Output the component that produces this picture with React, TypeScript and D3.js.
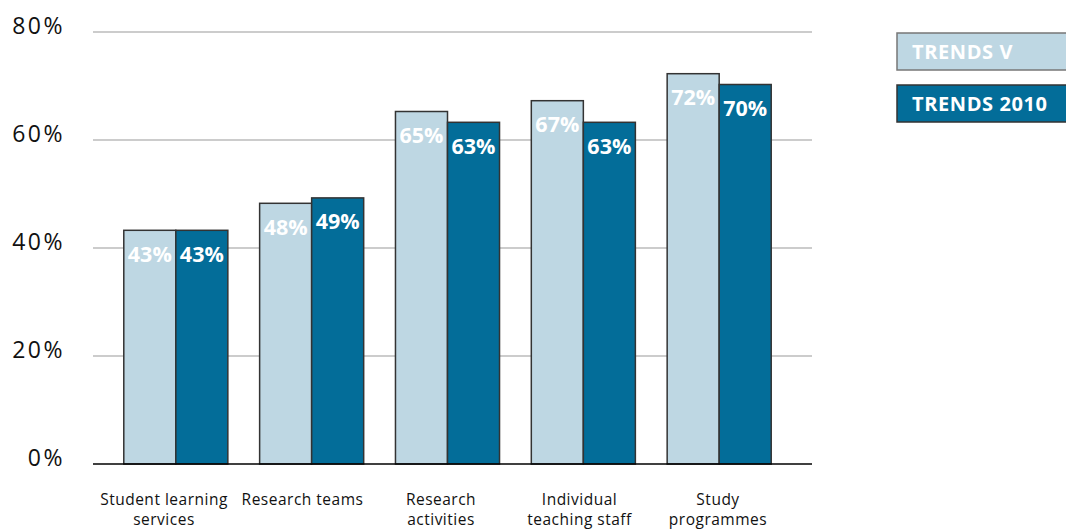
import React from "react";
import * as d3 from "d3";

const categories = [
  ["Student learning", "services"],
  ["Research teams"],
  ["Research", "activities"],
  ["Individual", "teaching staff"],
  ["Study", "programmes"],
];
const seriesNames = ["TRENDS V", "TRENDS 2010"];
const trendsV = [43, 48, 65, 67, 72];
const trends2010 = [43, 49, 63, 63, 70];
const yTicks = [0, 20, 40, 60, 80];

const colors = ["#BED7E3", "#036D99"];
const FONT = "'Open Sans', Lato, 'DejaVu Sans', sans-serif";

export default function App() {
  const W = 1066, H = 529;
  const y = d3.scaleLinear().domain([0, 80]).range([464, 32]);
  const idx = d3.range(categories.length);
  const x0 = d3.scaleBand<number>().domain(idx).range([92, 803]).paddingInner(0.234).paddingOuter(0.234);
  const x1 = d3.scaleBand<number>().domain([0, 1]).range([0, x0.bandwidth()]);
  const xLabel = d3.scalePoint<number>().domain(idx).range([164, 718]);
  const series = [trendsV, trends2010];
  const gridX0 = 93, gridX1 = 812;

  return (
    <svg width={W} height={H} style={{ position: "absolute", left: 0, top: 0, fontFamily: FONT }}>
      {yTicks.map((t) => (
        <g key={t}>
          {t > 0 && <line x1={gridX0} x2={gridX1} y1={y(t)} y2={y(t)} stroke="#999" strokeWidth={1} />}
          <text x={65} y={y(t) + 2} textAnchor="end" fontSize={23} fill="#111" letterSpacing={2.5}>{t}%</text>
        </g>
      ))}
      {categories.map((c, i) => (
        <g key={i}>
          {series.map((s, j) => {
            const bx = (x0(i) as number) + (x1(j) as number);
            const by = y(s[i]);
            return (
              <g key={j}>
                <rect x={bx} y={by - 1.5} width={x1.bandwidth()} height={y(0) - by + 1.5} fill={colors[j]} stroke="#333" strokeWidth={1.5} />
                <text x={bx + x1.bandwidth() / 2} y={by + 30} textAnchor="middle" fontSize={21.5} fontWeight="bold" fill="#fff">{s[i]}%</text>
              </g>
            );
          })}
          {c.map((line, k) => (
            <text key={k} x={xLabel(i) as number} y={505 + k * 20} textAnchor="middle" fontSize={15.5} fill="#111" letterSpacing={0.5}>{line}</text>
          ))}
        </g>
      ))}
      <line x1={gridX0} x2={gridX1} y1={y(0)} y2={y(0)} stroke="#000" strokeWidth={1.5} />
      {seriesNames.map((n, j) => (
        <g key={n}>
          <rect x={897} y={33 + j * 52} width={175} height={37} fill={colors[j]} stroke={j === 0 ? "#777" : "#333"} strokeWidth={1.5} />
          <text x={912} y={59 + j * 52} fontSize={20} fontWeight="bold" fill="#fff" letterSpacing={0.6}>{n}</text>
        </g>
      ))}
    </svg>
  );
}
